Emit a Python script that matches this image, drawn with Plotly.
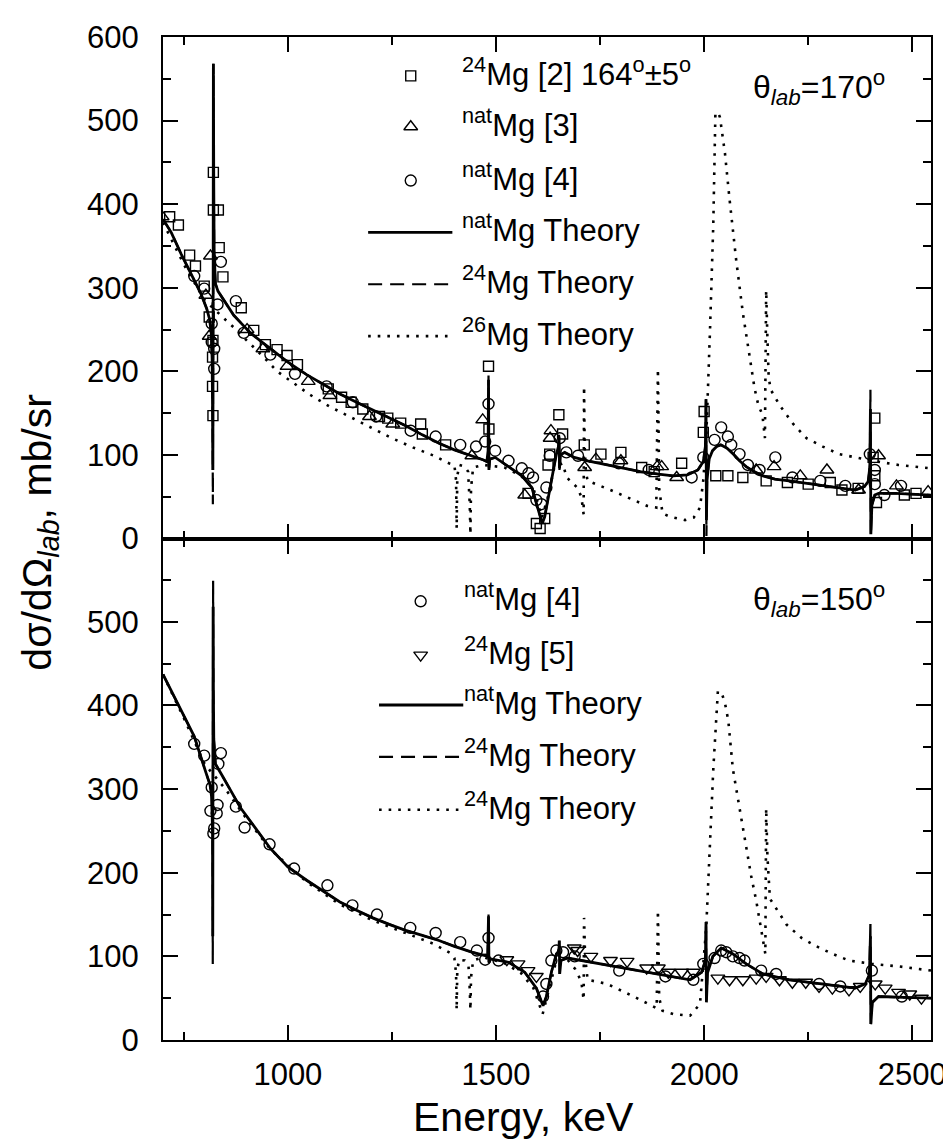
import plotly.graph_objects as go

# ---------------- data: theta = 170 deg (top panel) ----------------
top_sq_E = [716, 737, 764, 778, 799, 811, 821, 821, 833, 835, 844, 820, 819, 819, 820, 888, 918, 946, 974, 998,
            1023, 1097, 1129, 1152, 1180, 1220, 1240, 1271, 1319, 1323, 1379, 1482, 1483, 1577, 1597, 1606, 1617,
            1625, 1629, 1651, 1660, 1712, 1752, 1800, 1850, 1880, 1946, 1998, 2000, 2028, 2057, 2093, 2149, 2200,
            2250, 2303, 2331, 2370, 2406, 2410, 2410, 2414, 2481, 2509]
top_sq_v = [385, 375, 339, 326, 302, 265, 438, 393, 393, 348, 313, 237, 217, 182, 147, 276, 249, 232, 226, 219,
            208, 179, 169, 163, 155, 146, 144, 138, 137, 125, 112, 206, 131, 54, 18, 12, 24,
            88, 101, 148, 125, 112, 101, 103, 85, 80, 90, 127, 152, 75, 75, 73, 69, 67,
            65, 67, 58, 60, 97, 144, 75, 43, 52, 54]

top_tri_E = [698, 803, 811, 814, 902, 940, 998, 1049, 1101, 1196, 1252, 1442, 1468, 1569, 1630, 1632, 1713, 1740,
             1800, 1887, 1898, 1934, 2125, 2168, 2231, 2295, 2371, 2419, 2462, 2538]
top_tri_v = [385, 291, 242, 338, 250, 227, 206, 188, 171, 146, 137, 99, 142, 52, 120, 129, 85, 95,
             93, 86, 86, 73, 82, 86, 75, 82, 58, 99, 63, 56]

top_cir_E = [775, 799, 817, 817, 823, 823, 831, 839, 875, 894, 958, 1017, 1093, 1156, 1212, 1295, 1355, 1414, 1452,
             1474, 1482, 1498, 1530, 1562, 1578, 1589, 1597, 1609, 1621, 1629, 1653, 1669, 1697, 1795, 1867, 1970,
             1998, 2025, 2041, 2057, 2065, 2085, 2105, 2133, 2171, 2212, 2279, 2339, 2398, 2410, 2410, 2433, 2473]
top_cir_v = [314, 299, 257, 235, 203, 227, 280, 331, 284, 246, 220, 197, 182, 163, 146, 129, 122, 112, 110,
             116, 161, 105, 93, 84, 78, 73, 46, 41, 61, 99, 120, 103, 99, 90, 82, 73,
             97, 118, 133, 122, 112, 101, 88, 82, 97, 73, 69, 63, 101, 82, 65, 52, 63]

top_nat_E = [700, 720, 744, 770, 791, 805, 812, 816, 818, 819, 819.8, 820.5, 821, 822, 823, 826, 832, 840, 855,
             870, 887, 910, 940, 966, 1000, 1045, 1085, 1125, 1165, 1204, 1245, 1283, 1323, 1363, 1400, 1442,
             1470, 1478, 1481, 1482, 1483, 1485, 1498, 1530, 1562, 1586, 1601, 1611, 1617, 1625, 1637, 1645,
             1650, 1651.5, 1652.5, 1655, 1665, 1688, 1720, 1767, 1810, 1847, 1890, 1926, 1960, 1985, 1998, 2003,
             2004.5, 2005.5, 2007, 2012, 2020, 2030, 2040, 2055, 2070, 2085, 2101, 2120, 2141, 2170, 2204, 2245,
             2284, 2330, 2363, 2385, 2394, 2398, 2399.5, 2400.5, 2403, 2410, 2419, 2460, 2500, 2545]
top_nat_v = [382, 366, 340, 314, 293, 275, 262, 245, 215, 160, 82, 300, 568, 420, 340, 305, 296, 290, 278,
             267, 258, 246, 234, 224, 211, 196, 184, 173, 163, 154, 144, 135, 124, 114, 106, 99,
             94, 92, 105, 190, 82, 95, 97, 86, 75, 61, 37, 18, 26, 48, 82, 101,
             110, 122, 84, 100, 103, 97, 93, 88, 84, 80, 77, 75, 76, 82, 92, 110,
             167, 22, 70, 95, 105, 110, 112, 108, 101, 93, 86, 80, 75, 71, 69, 66,
             63, 60, 58, 62, 68, 85, 155, 5, 40, 52, 54, 54, 53, 52]

top_m24_E = list(top_nat_E)
top_m24_v = [382, 366, 340, 314, 293, 275, 262, 245, 210, 150, 41, 300, 568, 420, 340, 305, 296, 290, 278,
             267, 258, 246, 234, 224, 211, 196, 184, 173, 163, 154, 144, 135, 124, 114, 106, 99,
             94, 92, 105, 195, 80, 95, 97, 86, 75, 61, 37, 18, 26, 48, 82, 101,
             110, 124, 82, 100, 103, 97, 93, 88, 84, 80, 77, 75, 76, 82, 92, 110,
             170, 3, 70, 95, 105, 110, 112, 108, 101, 93, 86, 80, 75, 71, 69, 66,
             63, 60, 58, 62, 68, 85, 178, 3, 40, 52, 54, 54, 53, 52]

top_m26_E = [700, 750, 800, 850, 871, 899, 940, 974, 1013, 1053, 1100, 1150, 1204, 1250, 1300, 1351, 1387,
             1400, 1404, 1405.5, 1407, 1412, 1425, 1433, 1437, 1438.5, 1440, 1445, 1470, 1520, 1560, 1590,
             1610, 1625, 1640, 1660, 1670, 1695, 1705, 1709, 1710.5, 1711.5, 1713, 1716, 1720, 1775, 1823, 1863,
             1885, 1889, 1892, 1900, 1918, 1954, 1975, 1990, 1998, 2005, 2014, 2022, 2027, 2033, 2038, 2050,
             2061, 2077, 2093, 2109, 2121, 2130, 2140, 2146, 2149, 2152, 2155, 2160, 2182, 2214, 2246, 2285,
             2324, 2364, 2403, 2467, 2545]
top_m26_v = [378, 328, 285, 262, 252, 238, 218, 200, 186, 172, 158, 145, 131, 120, 109, 99, 90,
             88, 70, 12, 75, 88, 86, 80, 40, 5, 60, 85, 88, 85, 75, 60,
             25, 50, 85, 90, 73, 61, 50, 35, 29, 182, 110, 80, 69, 58, 48, 39,
             37, 203, 60, 30, 26, 22, 25, 37, 70, 120, 248, 376, 508, 510, 504, 461,
             406, 333, 270, 218, 180, 160, 148, 120, 297, 240, 193, 178, 159, 137, 120, 110,
             101, 97, 93, 88, 84]

# ---------------- data: theta = 150 deg (bottom panel) ----------------
bot_cir_E = [775, 799, 814, 817, 821, 823, 829, 831, 833, 839, 875, 896, 956, 1015, 1095, 1155, 1214, 1294, 1355,
             1414, 1454, 1474, 1482, 1506, 1613, 1621, 1633, 1645, 1661, 1689, 1796, 1907, 1974, 1998, 2025,
             2041, 2053, 2069, 2085, 2097, 2137, 2173, 2276, 2327, 2403, 2475]
bot_cir_v = [354, 340, 274, 302, 247, 253, 271, 281, 330, 343, 279, 254, 234, 205, 185, 161, 150, 134, 128,
             117, 107, 96, 122, 95, 52, 67, 95, 107, 105, 100, 83, 76, 72, 91, 98,
             107, 105, 100, 98, 95, 83, 79, 67, 64, 83, 52]

bot_tri_E = [1526, 1553, 1577, 1597, 1688, 1696, 1728, 1775, 1815, 1862, 1890, 1914, 1946, 1974, 2033, 2061, 2093,
             2125, 2149, 2181, 2212, 2244, 2276, 2308, 2348, 2375, 2411, 2435, 2467, 2494, 2522]
bot_tri_v = [96, 91, 83, 76, 110, 107, 100, 95, 94, 86, 86, 81, 81, 81, 74, 72, 72,
             74, 76, 72, 69, 69, 64, 62, 60, 64, 67, 62, 57, 55, 50]

bot_nat_E = [700, 736, 775, 803, 813, 817, 819, 819.6, 820.4, 821, 822, 826, 840, 855, 887, 958, 1000, 1045,
             1085, 1125, 1165, 1204, 1245, 1283, 1323, 1363, 1400, 1442, 1474, 1480, 1482, 1483, 1486, 1500,
             1530, 1569, 1597, 1613, 1621, 1633, 1645, 1651, 1652, 1653, 1656, 1672, 1728, 1807, 1886, 1966,
             1994, 2003, 2004.5, 2005.5, 2008, 2021, 2041, 2069, 2101, 2141, 2204, 2284, 2363, 2387, 2397,
             2399.5, 2400.5, 2404, 2419, 2480, 2545]
bot_nat_v = [437, 401, 363, 320, 305, 290, 250, 124, 518, 420, 360, 330, 318, 305, 277, 229, 207, 191,
             178, 165, 155, 146, 138, 131, 125, 119, 112, 105, 101, 100, 148, 93, 97, 96,
             93, 81, 62, 41, 52, 81, 103, 106, 119, 79, 95, 98, 93, 86, 79, 72,
             81, 95, 141, 45, 80, 100, 110, 103, 91, 79, 72, 67, 62, 67, 78,
             124, 19, 45, 52, 51, 50]

bot_m24_E = list(bot_nat_E)
bot_m24_v = [437, 401, 363, 320, 305, 290, 250, 91, 549, 420, 360, 330, 318, 305, 277, 229, 207, 191,
             178, 165, 155, 146, 138, 131, 125, 119, 112, 105, 101, 100, 150, 92, 97, 96,
             93, 81, 62, 41, 52, 81, 103, 106, 119, 79, 95, 98, 93, 86, 79, 72,
             81, 95, 138, 48, 80, 100, 110, 103, 91, 79, 72, 67, 62, 67, 78,
             143, 19, 45, 52, 51, 50]

bot_dot_E = [700, 750, 800, 850, 900, 958, 1045, 1125, 1204, 1283, 1350, 1390, 1400, 1404, 1405.5, 1407, 1412,
             1425, 1434, 1437, 1438.5, 1440, 1445, 1470, 1520, 1560, 1590, 1612, 1625, 1645, 1670, 1690, 1705,
             1709, 1710.5, 1711.5, 1714, 1720, 1767, 1831, 1874, 1886, 1889, 1892, 1900, 1926, 1966, 1990,
             2005, 2014, 2022, 2033, 2042, 2050, 2058, 2069, 2085, 2101, 2113, 2125, 2135, 2143, 2147, 2149,
             2152, 2158, 2198, 2234, 2270, 2308, 2348, 2403, 2467, 2545]
bot_dot_v = [437, 385, 330, 300, 265, 228, 189, 162, 143, 128, 115, 104, 98, 80, 36, 85, 96,
             95, 88, 60, 36, 75, 95, 99, 92, 80, 62, 31, 55, 95, 97, 85, 70,
             55, 48, 146, 100, 72, 67, 52, 41, 38, 155, 50, 35, 31, 29, 43,
             134, 229, 324, 417, 415, 403, 382, 324, 277, 229, 196, 167, 140, 115, 103, 277,
             220, 169, 138, 122, 112, 103, 95, 91, 88, 83]

x_ticks = [1000, 1500, 2000, 2500]

top_legend = ["<sup>24</sup>Mg [2] 164<sup>o</sup>±5<sup>o</sup>", "<sup>nat</sup>Mg [3]", "<sup>nat</sup>Mg [4]",
              "<sup>nat</sup>Mg Theory", "<sup>24</sup>Mg Theory", "<sup>26</sup>Mg Theory"]
bot_legend = ["<sup>nat</sup>Mg [4]", "<sup>24</sup>Mg [5]", "<sup>nat</sup>Mg Theory",
              "<sup>24</sup>Mg Theory", "<sup>24</sup>Mg Theory"]

# ---------------- layout constants (pixels) ----------------
W, H = 951, 1146
L, R, T, B = 155, 930, 26, 1032
FONT = "Liberation Sans, Arial, sans-serif"
BLACK = "black"
SOLID_W, DASH_W, DOT_W = 2.8, 2.2, 2.6
DASH = "14px,8px"
DOT = "2.6px,7px"
MK_LW = 1.4
YTITLE = "dσ/dΩ<sub><i>lab</i></sub>, mb/sr"


def px(xp):
    return (xp - L) / (R - L)


def py(yp):
    return (B - yp) / (B - T)


fig = go.Figure()


def line_trace(E, v, dash, width, xa, ya):
    fig.add_trace(go.Scatter(x=E, y=v, mode="lines", xaxis=xa, yaxis=ya, showlegend=False,
                             line=dict(color=BLACK, width=width, dash=dash)))


def marker_trace(E, v, symbol, size, xa, ya):
    fig.add_trace(go.Scatter(x=E, y=v, mode="markers", xaxis=xa, yaxis=ya, showlegend=False,
                             marker=dict(symbol=symbol, size=size, color=BLACK,
                                         line=dict(color=BLACK, width=MK_LW))))


SIZES = {"square-open": 10, "triangle-up-open": 12, "triangle-down-open": 12, "circle-open": 11}

line_trace(top_m26_E, top_m26_v, DOT, DOT_W, "x2", "y2")
line_trace(top_m24_E, top_m24_v, DASH, DASH_W, "x2", "y2")
line_trace(top_nat_E, top_nat_v, "solid", SOLID_W, "x2", "y2")
marker_trace(top_sq_E, top_sq_v, "square-open", SIZES["square-open"], "x2", "y2")
marker_trace(top_tri_E, top_tri_v, "triangle-up-open", SIZES["triangle-up-open"], "x2", "y2")
marker_trace(top_cir_E, top_cir_v, "circle-open", SIZES["circle-open"], "x2", "y2")

line_trace(bot_dot_E, bot_dot_v, DOT, DOT_W, "x", "y")
line_trace(bot_m24_E, bot_m24_v, DASH, DASH_W, "x", "y")
line_trace(bot_nat_E, bot_nat_v, "solid", SOLID_W, "x", "y")
marker_trace(bot_cir_E, bot_cir_v, "circle-open", SIZES["circle-open"], "x", "y")
marker_trace(bot_tri_E, bot_tri_v, "triangle-down-open", SIZES["triangle-down-open"], "x", "y")

# legend sample markers on an auxiliary [0,1] axis pair covering the whole plot area
top_rows = [65, 116, 170, 222, 274, 326]
bot_rows = [592, 646, 696, 748, 801]
leg_syms_top = ["square-open", "triangle-up-open", "circle-open"]
leg_syms_bot = ["circle-open", "triangle-down-open"]
for i, s in enumerate(leg_syms_top):
    fig.add_trace(go.Scatter(x=[px(405)], y=[py(top_rows[i])], mode="markers", xaxis="x3", yaxis="y3",
                             showlegend=False, marker=dict(symbol=s, size=SIZES[s], color=BLACK,
                                                           line=dict(color=BLACK, width=MK_LW))))
for i, s in enumerate(leg_syms_bot):
    fig.add_trace(go.Scatter(x=[px(415)], y=[py(bot_rows[i])], mode="markers", xaxis="x3", yaxis="y3",
                             showlegend=False, marker=dict(symbol=s, size=SIZES[s], color=BLACK,
                                                           line=dict(color=BLACK, width=MK_LW))))

shapes = []
for y0, dash, w in zip(top_rows[3:], ["solid", DASH, DOT], [SOLID_W, DASH_W, DOT_W]):
    shapes.append(dict(type="line", xref="paper", yref="paper", x0=px(362), x1=px(447), y0=py(y0), y1=py(y0),
                       line=dict(color=BLACK, width=w, dash=dash)))
for y0, dash, w in zip(bot_rows[2:], ["solid", DASH, DOT], [SOLID_W, DASH_W, DOT_W]):
    shapes.append(dict(type="line", xref="paper", yref="paper", x0=px(373), x1=px(458), y0=py(y0), y1=py(y0),
                       line=dict(color=BLACK, width=w, dash=dash)))

annotations = []
for y0, t in zip(top_rows, top_legend):
    annotations.append(dict(text=t, x=px(455), y=py(y0 - 4), xref="paper", yref="paper", xanchor="left",
                            yanchor="middle", showarrow=False, font=dict(family=FONT, size=31, color=BLACK)))
for y0, t in zip(bot_rows, bot_legend):
    annotations.append(dict(text=t, x=px(457), y=py(y0 - 4), xref="paper", yref="paper", xanchor="left",
                            yanchor="middle", showarrow=False, font=dict(family=FONT, size=31, color=BLACK)))
annotations.append(dict(text="θ<sub><i>lab</i></sub>=170<sup>o</sup>", x=px(748), y=py(77), xref="paper",
                        yref="paper", xanchor="left", yanchor="middle", showarrow=False,
                        font=dict(family=FONT, size=32, color=BLACK)))
annotations.append(dict(text="θ<sub><i>lab</i></sub>=150<sup>o</sup>", x=px(748), y=py(590), xref="paper",
                        yref="paper", xanchor="left", yanchor="middle", showarrow=False,
                        font=dict(family=FONT, size=32, color=BLACK)))
annotations.append(dict(text="Energy, keV", x=px(405), y=py(1109), xref="paper", yref="paper", xanchor="left",
                        yanchor="middle", showarrow=False, font=dict(family=FONT, size=41, color=BLACK)))
annotations.append(dict(text=YTITLE, x=px(30), y=py(523), xref="paper",
                        yref="paper", xanchor="center", yanchor="middle", textangle=-90, showarrow=False,
                        font=dict(family=FONT, size=41, color=BLACK)))

axis_common = dict(showline=True, linewidth=2, linecolor=BLACK, mirror="allticks", ticks="inside",
                   tickwidth=2, tickcolor=BLACK, showgrid=False, zeroline=False,
                   tickfont=dict(family=FONT, size=31, color=BLACK))

fig.update_layout(
    width=W, height=H,
    margin=dict(l=L, r=W - R, t=T, b=H - B),
    paper_bgcolor="white", plot_bgcolor="rgba(0,0,0,0)",
    showlegend=False,
    xaxis=dict(domain=[0, 1], anchor="y", range=[700, 2545], tickvals=x_ticks, ticklen=15,
               minor=dict(dtick=250, tick0=0, ticks="inside", ticklen=8, tickwidth=2, tickcolor=BLACK),
               ticklabelstandoff=6, **axis_common),
    xaxis2=dict(domain=[0, 1], anchor="y2", matches="x", range=[700, 2545], tickvals=x_ticks, ticklen=15,
                showticklabels=False,
                minor=dict(dtick=250, tick0=0, ticks="inside", ticklen=8, tickwidth=2, tickcolor=BLACK),
                **axis_common),
    yaxis=dict(domain=[0, 0.5], anchor="x", range=[0, 599.6], dtick=100, ticklen=15,
               minor=dict(dtick=50, tick0=0, ticks="inside", ticklen=8, tickwidth=2, tickcolor=BLACK),
               ticklabelstandoff=16, **axis_common),
    yaxis2=dict(domain=[0.5, 1], anchor="x2", range=[0, 600], dtick=100, ticklen=15,
                minor=dict(dtick=50, tick0=0, ticks="inside", ticklen=8, tickwidth=2, tickcolor=BLACK),
                ticklabelstandoff=16, **axis_common),
    xaxis3=dict(domain=[0, 1], anchor="y3", range=[0, 1], visible=False),
    yaxis3=dict(domain=[0, 1], anchor="x3", range=[0, 1], visible=False),
    shapes=shapes,
    annotations=annotations,
)

fig.write_html("out.html")
